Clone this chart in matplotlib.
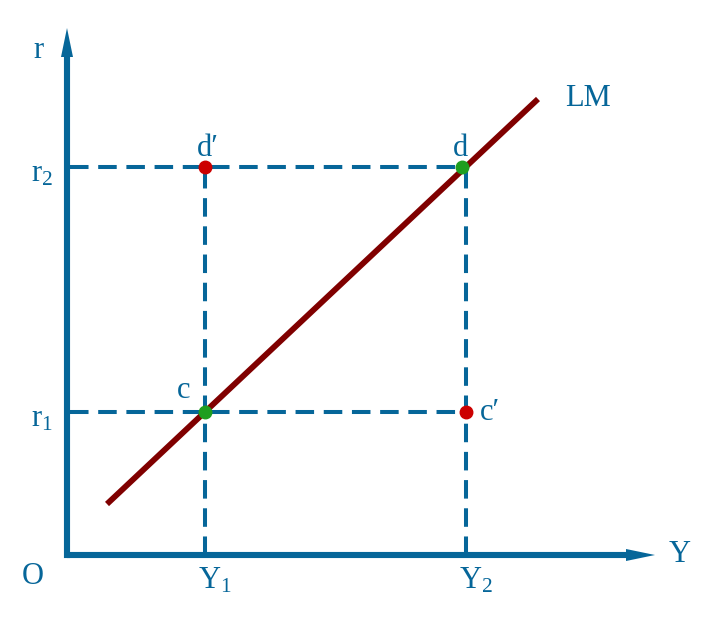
import matplotlib
matplotlib.use("Agg")
import matplotlib.pyplot as plt
from matplotlib.patches import Polygon

plt.rcParams['font.family'] = ['Liberation Serif', 'DejaVu Serif']
plt.rcParams['mathtext.fontset'] = 'custom'
plt.rcParams['mathtext.rm'] = 'Liberation Serif'
plt.rcParams['mathtext.it'] = 'Liberation Serif'

BLUE = '#066699'
DARKRED = '#800000'
RED = '#cc0000'
GREEN = '#1f9e1f'

# income and interest levels (arbitrary units, origin at O)
Y_levels = [1.38, 3.99]
Y_labels = ['$\\mathrm{Y}_1$', '$\\mathrm{Y}_2$']
r_levels = [1.43, 3.88]
r_labels = ['$\\mathrm{r}_1$', '$\\mathrm{r}_2$']

# LM curve end points
lm_x = [0.40, 4.71]
lm_y = [0.51, 4.56]

# points on LM (green) and off LM (red)
on_names = ['c', 'd']
on_x = [1.38, 3.95]
on_y = [1.43, 3.88]
off_names = ["c\u2032", "d\u2032"]
off_x = [3.99, 1.38]
off_y = [1.43, 3.88]

x_tip, y_tip = 5.88, 5.27
head_len, head_w = 0.29, 0.06

fig = plt.figure(figsize=(7.21, 6.23), dpi=100)
ax = fig.add_axes([0, 0, 1, 1])
ax.set_xlim(-0.67, 6.54)
ax.set_ylim(-0.68, 5.55)
ax.axis('off')

# dashed guide lines
dash = dict(color=BLUE, lw=2.9, dashes=(4.6, 2.4))
for r in r_levels:
    ax.plot([0.03, Y_levels[1]], [r, r], **dash)
for Y in Y_levels:
    ax.plot([Y, Y], [0, r_levels[1]], **dash)

# axes with arrow heads
ax.plot([0, 0], [y_tip - head_len, 0], color=BLUE, lw=4.4,
        solid_capstyle='projecting')
ax.plot([0, x_tip - head_len], [0, 0], color=BLUE, lw=4.4,
        solid_capstyle='butt')
ax.add_patch(Polygon([[-head_w, y_tip - head_len], [head_w, y_tip - head_len],
                      [0, y_tip]], closed=True, color=BLUE, lw=0))
ax.add_patch(Polygon([[x_tip - head_len, -head_w], [x_tip - head_len, head_w],
                      [x_tip, 0]], closed=True, color=BLUE, lw=0))

# LM curve
ax.plot(lm_x, lm_y, color=DARKRED, lw=4.2, solid_capstyle='butt')

ax.plot(off_x, off_y, 'o', color=RED, ms=9, zorder=5)
ax.plot(on_x, on_y, 'o', color=GREEN, ms=9, zorder=5)

fs = 22
ax.text(-0.29, 5.05, 'r', fontsize=fs, color=BLUE, ha='center', va='center')
ax.text(6.13, 0.0, 'Y', fontsize=fs, color=BLUE, ha='center', va='center')
ax.text(-0.34, -0.22, 'O', fontsize=fs, color=BLUE, ha='center', va='center')
ax.text(5.21, 4.56, 'LM', fontsize=fs, color=BLUE, ha='center', va='center')

for Y, lab in zip(Y_levels, Y_labels):
    ax.text(Y + 0.1, -0.26, lab, fontsize=fs, color=BLUE, ha='center', va='center')
for r, lab in zip(r_levels, r_labels):
    ax.text(-0.25, r - 0.07, lab, fontsize=fs, color=BLUE, ha='center', va='center')

ax.text(1.41, 4.07, off_names[1], fontsize=fs, color=BLUE, ha='center', va='center')
ax.text(3.93, 4.07, on_names[1], fontsize=fs, color=BLUE, ha='center', va='center')
ax.text(1.17, 1.64, on_names[0], fontsize=fs, color=BLUE, ha='center', va='center')
ax.text(4.23, 1.43, off_names[0], fontsize=fs, color=BLUE, ha='center', va='center')

fig.savefig('out.png', dpi=100)
